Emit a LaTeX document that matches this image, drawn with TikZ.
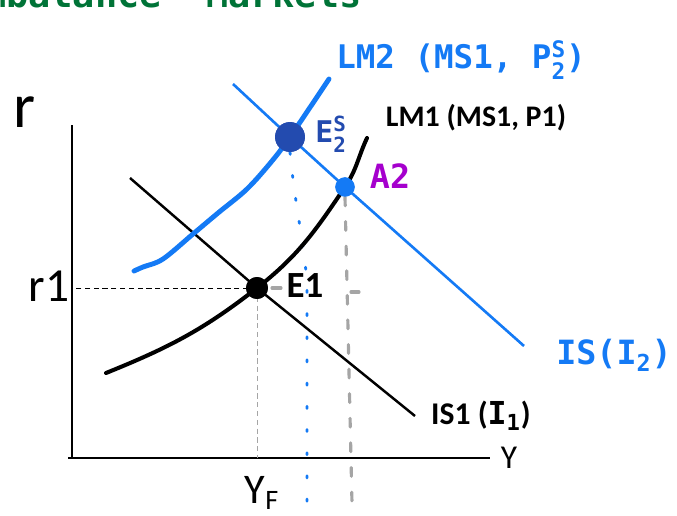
\documentclass[tikz,border=0pt]{standalone}
\usepackage{amsmath}
\usepackage{fontspec}
\setmainfont{Carlito}
\newfontfamily\hand{DejaVu Sans Mono}
\usepackage{tikz}
\usetikzlibrary{positioning,calc}
\definecolor{lmblue}{RGB}{20,122,245}
\definecolor{eblue}{RGB}{35,75,175}
\definecolor{apurple}{RGB}{165,0,205}
\definecolor{hgreen}{RGB}{0,115,55}
\definecolor{vgray}{RGB}{165,165,165}

\begin{document}
\begin{tikzpicture}[x=0.02cm,y=0.02cm,
  axis/.style={line width=0.85pt},
  isone/.style={line width=1.4pt},
  lmone/.style={line width=2.3pt,line cap=round},
  istwo/.style={lmblue,line width=1.5pt},
  lmtwo/.style={lmblue,line width=2.8pt,line cap=round,line join=round},
  eqdot/.style={circle,inner sep=0pt,minimum size=#1},
  hnd/.style={font=\hand\bfseries\fontsize{18.5}{18.5}\selectfont,text=lmblue},
  guide/.style={line width=0.5pt,dash pattern=on 3pt off 2pt},
  bdots/.style={lmblue,line width=1.6pt,line cap=round,dash pattern=on 1.2pt off 12pt},
  gdash/.style={vgray,line width=1.8pt,line cap=round,dash pattern=on 5pt off 9pt}]
  \useasboundingbox (0,0) rectangle (677,515);
  % heading, cut off at the top
  \begin{scope}
    \clip (0,0) rectangle (677,515);
    \node[anchor=base east,inner sep=0pt,text=hgreen,font=\hand\bfseries\fontsize{21}{21}\selectfont] (head) at (362,507) {Imbalance\ \ Markets};
  \end{scope}
  % axes
  \coordinate (O) at (72,57);
  \coordinate (ytop) at (72,390);
  \coordinate (xend) at (490,57);
  \draw[axis] (68,57) -- (xend);
  \draw[axis] (O) -- (ytop);
  \node[font=\fontsize{36}{36}\selectfont] (rlab) at (25,403) {r};
  \node[font=\fontsize{27}{27}\selectfont] (r1lab) at (49,229) {r1};
  \node[font=\fontsize{19}{19}\selectfont] (ylab) at (509,57) {Y};
  % equilibrium points
  \node[eqdot=12.5,fill=black] (E1) at (257,227) {};
  \node[eqdot=17,fill=eblue] (E2) at (290,378) {};
  \node[eqdot=11,fill=lmblue] (A2) at (345,328) {};
  % guides
  \draw[guide] (E1.center) -- (E1.center -| O);
  \draw[guide,vgray] (E1.center) -- (E1.center |- O);
  \node[font=\fontsize{24}{24}\selectfont,anchor=north] (yf) at (262,45) {Y\textsubscript{\fontsize{16}{16}\selectfont F}};
  \draw[bdots] (E2.south) .. controls (296,300) and (307,260) .. (307,222) -- (307,0);
  \draw[gdash] (A2.south) -- (352,12);
  \draw[vgray,line width=1.8pt,line cap=round] ($(E1.center)+(15,0)$) -- ++(9,0);
  \draw[vgray,line width=1.8pt,line cap=round] (351,223) -- (359,223);
  % IS curves
  \coordinate (is1a) at (130,337);
  \coordinate (is1b) at (415,99);
  \draw[isone] (is1a) -- (E1.center) -- (is1b);
  \coordinate (is2a) at (233,431);
  \coordinate (is2b) at (524,169);
  \draw[istwo] (is2a) -- (E2.center) -- (A2.center) -- (is2b);
  % LM curves
  \coordinate (lm1a) at (106,142);
  \coordinate (lm1b) at (367,377);
  \draw[lmone] (lm1a) to[out=22,in=218] (E1.center) to[out=38,in=236] (A2.center) to[out=56,in=245] (lm1b);
  \coordinate (lm2a) at (134,244);
  \coordinate (lm2b) at (329,436);
  \draw[lmtwo] plot[smooth,tension=0.55] coordinates {(lm2a) (143,248) (163,256) (193,281) (218,302) (247,326) (272,354) (E2.center) (lm2b)};
  \node[eqdot=12.5,fill=black] at (E1) {};
  \node[eqdot=17,fill=eblue] at (E2) {};
  \node[eqdot=11,fill=lmblue] at (A2) {};
  % labels
  \node[font=\bfseries\fontsize{17}{17}\selectfont] (lm1lab) at (476,397) {LM1 (MS1, P1)};
  \node[font=\bfseries\fontsize{21}{21}\selectfont] (e1lab) at (305,229) {E1};
  \node[font=\bfseries\fontsize{18}{18}\selectfont] (is1lab) at (481,99) {IS1 ({\hand I$_{\text{1}}$})};
  \node[hnd,font=\hand\bfseries\fontsize{19}{19}\selectfont] (is2lab) at (614,160) {IS(I$_{\text{2}}$)};
  \node[hnd] (lm2lab) at (461,455) {LM2 (MS1, P$^{\text{S}}_{\text{2}}$)};
  \node[hnd,text=eblue,font=\hand\bfseries\fontsize{17}{17}\selectfont] (e2lab) at (331,381) {E$^{\text{S}}_{\text{2}}$};
  \node[hnd,text=apurple,font=\hand\bfseries\fontsize{19}{19}\selectfont] (a2lab) at (390,339) {A2};
\end{tikzpicture}
\end{document}
